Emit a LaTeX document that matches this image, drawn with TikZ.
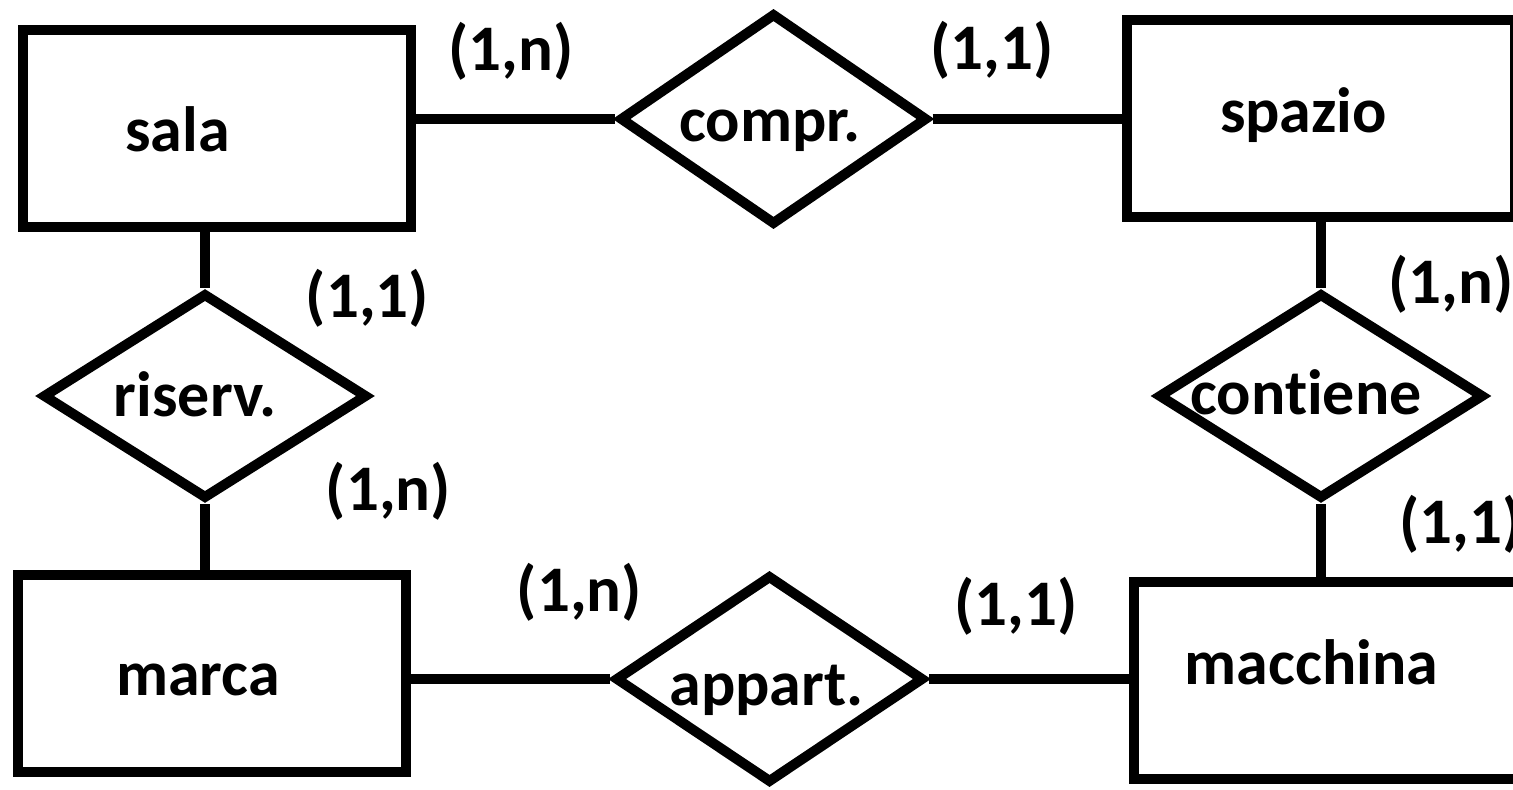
\documentclass[tikz,border=0pt]{standalone}
\usepackage{fontspec}
\setmainfont{Carlito}[Ligatures=NoCommon]
\usepackage{tikz}
\usetikzlibrary{shapes.geometric}

\begin{document}
\begin{tikzpicture}[x=0.5pt,y=-0.5pt,
  entity/.style={draw=black,line width=5pt,minimum width=194pt,minimum height=98.5pt,inner sep=0pt},
  relation/.style={draw=black,shape=diamond,line width=5pt,inner sep=0pt},
  word/.style={font=\fontsize{32pt}{38pt}\selectfont\bfseries,inner sep=0pt,anchor=base},
  card/.style={font=\fontsize{32.5pt}{38pt}\selectfont\bfseries,inner sep=0pt},
  link/.style={line width=5pt}]
\useasboundingbox (0,0) rectangle (1513,790);
% entities
\node[entity] (sala) at (216.5,128.75) {};
\node[word] (salal) at (177.5,152) {sala};
\node[entity] (spazio) at (1321,118.5) {};
\node[word] (spaziol) at (1303.5,133) {spazio};
\node[entity] (marca) at (211.75,673.25) {};
\node[word] (marcal) at (198,695) {marca};
\node[entity] (macchina) at (1328,680) {};
\node[word] (macchinal) at (1311.5,684) {macchina};
% relations
\node[relation,minimum width=154pt,minimum height=106pt] (compr) at (773.5,119) {};
\node[word] (comprl) at (770,142) {compr.};
\node[relation,minimum width=162.5pt,minimum height=103pt] (riserv) at (205,396) {};
\node[word] (riservl) at (195,417) {riserv.};
\node[relation,minimum width=163pt,minimum height=103pt] (contiene) at (1321,396) {};
\node[word] (contienel) at (1306,415) {contiene};
\node[relation,minimum width=154.5pt,minimum height=104pt] (appart) at (769.5,679) {};
\node[word] (appartl) at (766.5,705) {appart.};
% cardinalities
\node[card] (k1) at (511,51.5) {(1,n)};
\node[card] (k2) at (992,50) {(1,1)};
\node[card] (k3) at (367.5,298.5) {(1,1)};
\node[card] (k4) at (388.5,491.5) {(1,n)};
\node[card] (k5) at (1451,284.5) {(1,n)};
\node[card] (k6) at (1461,524) {(1,1)};
\node[card] (k7) at (579.5,592.5) {(1,n)};
\node[card] (k8) at (1016,606) {(1,1)};
% links
\draw[link] (sala.east |- compr.west) -- (compr.west);
\draw[link] (compr.east) -- (compr.east -| spazio.west);
\draw[link] (riserv.north) -- (riserv.north |- sala.south);
\draw[link] (riserv.south) -- (riserv.south |- marca.north);
\draw[link] (contiene.north) -- (contiene.north |- spazio.south);
\draw[link] (contiene.south) -- (contiene.south |- macchina.north);
\draw[link] (appart.west) -- (appart.west -| marca.east);
\draw[link] (appart.east) -- (appart.east -| macchina.west);
\end{tikzpicture}
\end{document}
